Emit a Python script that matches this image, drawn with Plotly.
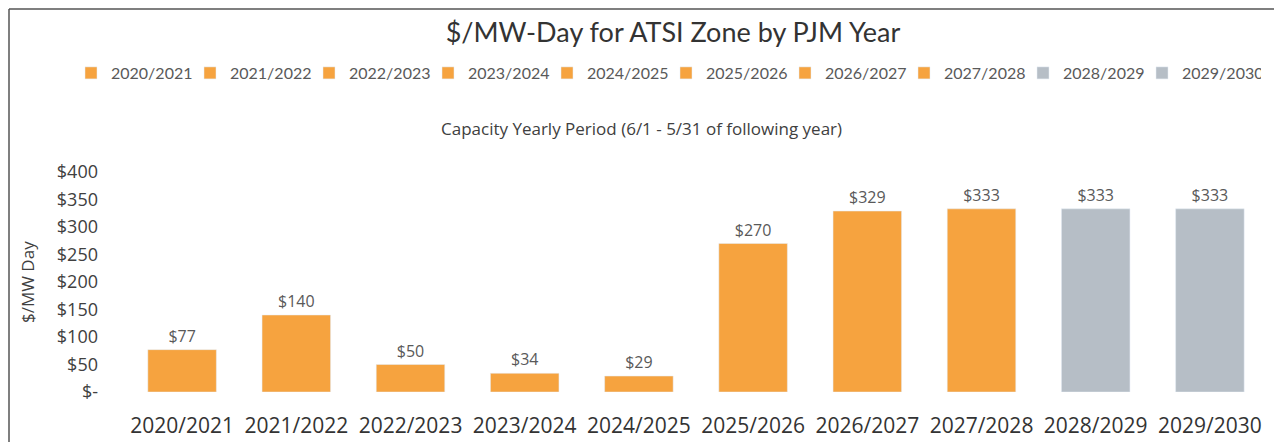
import plotly.graph_objects as go

# capacity price per PJM delivery year
years = [
    "2020/2021", "2021/2022", "2022/2023", "2023/2024", "2024/2025",
    "2025/2026", "2026/2027", "2027/2028", "2028/2029", "2029/2030",
]
prices = [77, 140, 50, 34, 29, 270, 329, 333, 333, 333]
is_projected = [False] * 8 + [True, True]

y_ticks = [0, 50, 100, 150, 200, 250, 300, 350, 400]
y_tick_labels = ["$-", "$50", "$100", "$150", "$200", "$250", "$300", "$350", "$400"]

_ORANGE = "#F6A33F"
_GRAY = "#B6BEC6"
_TEXT = "#404040"
_LABEL = "#595959"

# page body adds an 8px margin; positions below are in screen pixels
OFF = 8
W, H = 1282, 442
PLOT_L, PLOT_R, PLOT_T, PLOT_B = 125, 1267, 172, 392
L, T = PLOT_L - OFF, PLOT_T - OFF
R, B = W - (PLOT_R - OFF), H - (PLOT_B - OFF)
PW, PH = PLOT_R - PLOT_L, PLOT_B - PLOT_T


def px_x(x):
    return (x - PLOT_L) / PW


def px_y(y):
    return (PLOT_B - y) / PH


fig = go.Figure()
for year, price, proj in zip(years, prices, is_projected):
    fig.add_trace(go.Bar(
        x=[year],
        y=[price],
        name=year,
        marker_color=_GRAY if proj else _ORANGE,
        text=[f"${price:.0f}"],
        textposition="outside",
        textfont={"size": 16, "color": _LABEL, "family": "Open Sans"},
        cliponaxis=False,
    ))

fig.update_layout(
    width=W,
    height=H,
    barmode="overlay",
    bargap=0.4,
    paper_bgcolor="white",
    plot_bgcolor="white",
    margin={"l": L, "r": R, "t": T, "b": B, "autoexpand": False},
    font={"family": "Open Sans", "color": _TEXT},
    title={
        "text": "$/MW-Day for ATSI Zone by PJM Year",
        "x": (673 - OFF) / W,
        "xanchor": "center",
        "y": 1 - (33 - OFF) / H,
        "yanchor": "middle",
        "font": {"family": "Lato", "size": 27, "color": "#333333"},
    },
    legend={
        "orientation": "h",
        "x": px_x(71),
        "xanchor": "left",
        "y": px_y(73),
        "yanchor": "middle",
        "font": {"family": "Lato", "size": 16, "color": _LABEL},
        "entrywidth": 74,
        "entrywidthmode": "pixels",
        "itemwidth": 30,
        "traceorder": "normal",
    },
    xaxis={
        "type": "category",
        "categoryorder": "array",
        "categoryarray": years,
        "showline": False,
        "showgrid": False,
        "ticks": "",
        "automargin": False,
        "tickfont": {"size": 21, "color": "#333333", "family": "Open Sans"},
        "ticklabelstandoff": 19,
    },
    yaxis={
        "range": [0, 400],
        "tickvals": y_ticks,
        "ticktext": y_tick_labels,
        "showgrid": False,
        "zeroline": False,
        "showline": False,
        "automargin": False,
        "tickfont": {"size": 18, "color": _TEXT, "family": "Open Sans"},
        "ticklabelstandoff": 26,
    },
    annotations=[
        {
            "text": "Capacity Yearly Period (6/1 - 5/31 of following year)",
            "x": px_x(641),
            "y": px_y(128),
            "xref": "paper",
            "yref": "paper",
            "xanchor": "center",
            "yanchor": "middle",
            "showarrow": False,
            "font": {"size": 17, "color": _TEXT, "family": "Open Sans"},
        },
        {
            "text": "$/MW Day",
            "x": px_x(27),
            "y": 0.5,
            "xref": "paper",
            "yref": "paper",
            "xanchor": "center",
            "yanchor": "middle",
            "textangle": -90,
            "showarrow": False,
            "font": {"size": 17, "color": _TEXT, "family": "Open Sans"},
        },
    ],
    shapes=[
        # chart frame: left and top edges only
        {"type": "line", "xref": "paper", "yref": "paper",
         "x0": px_x(9), "x1": px_x(9), "y0": px_y(H + OFF), "y1": px_y(9),
         "line": {"color": "#555555", "width": 1.5}},
        {"type": "line", "xref": "paper", "yref": "paper",
         "x0": px_x(9), "x1": px_x(W + OFF), "y0": px_y(9), "y1": px_y(9),
         "line": {"color": "#555555", "width": 1.5}},
    ],
)

fig.write_html("out.html")
